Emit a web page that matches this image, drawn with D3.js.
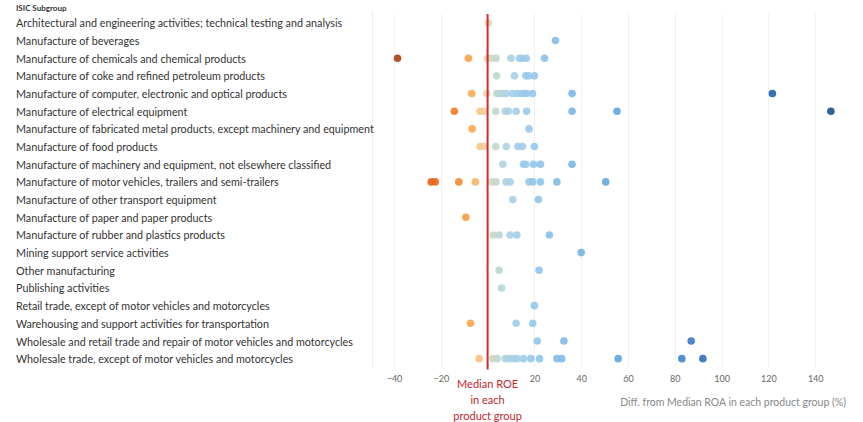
<!DOCTYPE html>
<html>
<head>
<meta charset="utf-8">
<script src="https://cdn.jsdelivr.net/npm/d3@7"></script>
<style>
  html, body { margin: 0; padding: 0; background: #fff; }
  svg { display: block; }
</style>
</head>
<body>
<svg id="chart" width="863" height="422"></svg>
<script>
const categories = [
  "Architectural and engineering activities; technical testing and analysis",
  "Manufacture of beverages",
  "Manufacture of chemicals and chemical products",
  "Manufacture of coke and refined petroleum products",
  "Manufacture of computer, electronic and optical products",
  "Manufacture of electrical equipment",
  "Manufacture of fabricated metal products, except machinery and equipment",
  "Manufacture of food products",
  "Manufacture of machinery and equipment, not elsewhere classified",
  "Manufacture of motor vehicles, trailers and semi-trailers",
  "Manufacture of other transport equipment",
  "Manufacture of paper and paper products",
  "Manufacture of rubber and plastics products",
  "Mining support service activities",
  "Other manufacturing",
  "Publishing activities",
  "Retail trade, except of motor vehicles and motorcycles",
  "Warehousing and support activities for transportation",
  "Wholesale and retail trade and repair of motor vehicles and motorcycles",
  "Wholesale trade, except of motor vehicles and motorcycles"
];

// Diff. from median ROA (%) for each company, per subgroup
const values = [
  [0.3],
  [29],
  [-38.5, -8.2, -0.1, 1.5, 3.6, 10, 13.6, 14.6, 16.5, 24.3],
  [3.8, 11.5, 16.3, 17.5, 20],
  [-6.8, -0.4, 3.9, 5, 6.5, 7.9, 10.6, 12.5, 14.2, 15.7, 16.7, 19.2, 36.1, 121.7],
  [-14.2, -3.2, -1.5, 3.5, 7.5, 8.9, 12.2, 16.7, 36.1, 55.3, 146.7],
  [-6.6, 17.7],
  [-3.2, -1.5, 3.5, 8, 12.9, 14.9, 20],
  [6.5, 15.3, 16.3, 19.6, 22.6, 36.1],
  [-24.1, -22.4, -12.3, -5.2, 1.8, 3.6, 7.9, 9.6, 17.7, 19.3, 22.6, 29.6, 50.5],
  [10.8, 21.7],
  [-9.3],
  [2.5, 4.9, 9.6, 12.5, 26.4],
  [40],
  [4.9, 22],
  [6],
  [20],
  [-7.3, 12.2, 19.3],
  [21.2, 32.6, 87],
  [-3.6, 2.2, 4.1, 7.5, 8.9, 10.8, 12.5, 15.3, 18.5, 22.2, 29.6, 31.7, 55.8, 83, 92]
];

const tickValues = [-40, -20, 20, 40, 60, 80, 100, 120, 140];
const medianValue = 0;
const headerLabel = "ISIC Subgroup";
const axisTitle = "Diff. from Median ROA in each product group (%)";
const medianLabel = ["Median ROE", "in each", "product group"];

const colorStops = [-40, -24, -14, -9, -6, -3, 0, 3, 8, 15, 25, 40, 55, 85, 92, 122, 147];
const colorRange = ["#a33b14", "#e5601b", "#f07d2a", "#f99d3f", "#fcad58", "#fcc585", "#e2d6b6",
                    "#c3d8c6", "#acd3e2", "#9dcbea", "#89c1ea", "#74b4e4", "#5fa6dd", "#3d80c8",
                    "#2f70bd", "#2160ae", "#1c4f8e"];

const svg = d3.select("#chart");
const paneLeft = 372, paneRight = 855, paneTop = 14, paneBottom = 367.5;

const x = d3.scaleLinear().domain([-49.4, 157]).range([paneLeft, paneRight]);
const y = d3.scaleBand().domain(categories).range([paneTop, paneBottom]).padding(0);
const color = d3.scaleLinear().domain(colorStops).range(colorRange).clamp(true);

const font = "Lato, 'Open Sans', sans-serif";

// header
svg.append("text")
  .attr("x", 16).attr("y", 11)
  .attr("font-family", font).attr("font-size", 8).attr("font-weight", 700)
  .attr("fill", "#333").text(headerLabel);

// pane left divider
svg.append("line")
  .attr("x1", paneLeft + 0.5).attr("x2", paneLeft + 0.5)
  .attr("y1", 10).attr("y2", paneBottom + 1)
  .attr("stroke", "#eeeeee").attr("stroke-width", 1);

// grid
svg.append("g").selectAll("line").data(tickValues).join("line")
  .attr("x1", d => Math.round(x(d)) + 0.5).attr("x2", d => Math.round(x(d)) + 0.5)
  .attr("y1", paneTop).attr("y2", paneBottom)
  .attr("stroke", "#f0f0f0").attr("stroke-width", 1);

// row labels
svg.append("g").selectAll("text").data(categories).join("text")
  .attr("x", 16)
  .attr("y", d => y(d) + y.bandwidth() / 2)
  .attr("dy", "0.42em")
  .attr("font-family", font).attr("font-size", 10.75)
  .attr("fill", "#333")
  .text(d => d);

// x axis (tick labels only)
const axis = d3.axisBottom(x).tickValues(tickValues).tickSize(0).tickPadding(0);
const gAxis = svg.append("g").attr("transform", `translate(0, ${paneBottom + 8})`).call(axis);
gAxis.select(".domain").remove();
gAxis.selectAll("text")
  .attr("font-family", font).attr("font-size", 9).attr("fill", "#666");

// axis title
svg.append("text")
  .attr("x", 846).attr("y", 406)
  .attr("text-anchor", "end")
  .attr("font-family", font).attr("font-size", 10.5).attr("fill", "#888")
  .text(axisTitle);

// dots
const flat = [];
values.forEach((arr, i) => arr.forEach(v => flat.push({ cat: categories[i], v })));
svg.append("g").selectAll("circle").data(flat).join("circle")
  .attr("cx", d => x(d.v))
  .attr("cy", d => y(d.cat) + y.bandwidth() / 2)
  .attr("r", 3.8)
  .attr("fill", d => color(d.v))
  .attr("fill-opacity", 0.9);

// median line
svg.append("line")
  .attr("x1", x(medianValue)).attr("x2", x(medianValue))
  .attr("y1", paneTop).attr("y2", paneBottom + 2)
  .attr("stroke", "#d62a2a").attr("stroke-width", 2);

// median label
const ml = svg.append("text")
  .attr("x", x(medianValue)).attr("y", 388)
  .attr("text-anchor", "middle")
  .attr("font-family", font).attr("font-size", 11).attr("fill", "#c0282d");
medianLabel.forEach((t, i) => ml.append("tspan").attr("x", x(medianValue)).attr("dy", i === 0 ? 0 : 16).text(t));
</script>
</body>
</html>
